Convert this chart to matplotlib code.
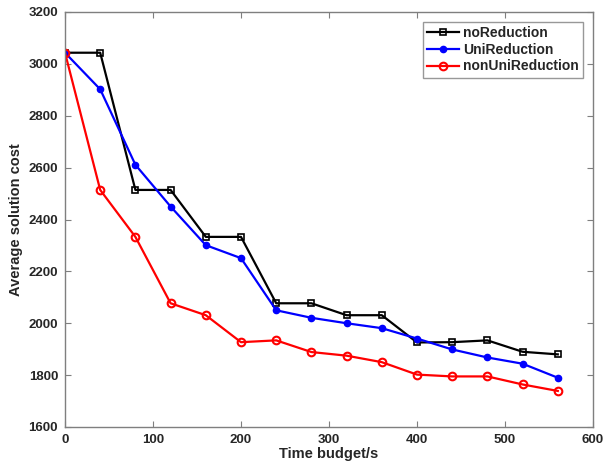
import matplotlib
matplotlib.use("Agg")
import matplotlib.pyplot as plt

# Data
time_budget = [0, 40, 80, 120, 160, 200, 240, 280, 320, 360, 400, 440, 480, 520, 560]
no_reduction = [3043, 3043, 2514, 2514, 2333, 2333, 2077, 2077, 2031, 2031, 1926, 1927, 1934, 1890, 1880]
uni_reduction = [3043, 2902, 2611, 2450, 2301, 2251, 2050, 2021, 2000, 1981, 1941, 1899, 1868, 1844, 1790]
non_uni_reduction = [3043, 2514, 2333, 2077, 2031, 1927, 1934, 1889, 1875, 1850, 1802, 1795, 1795, 1764, 1739]

plt.rcParams['font.family'] = ['Liberation Sans', 'DejaVu Sans']
plt.rcParams['font.weight'] = 'bold'

fig = plt.figure(figsize=(6.16, 4.70), dpi=100)
ax = fig.add_axes([65 / 616, 43 / 470, 528 / 616, 415 / 470])

ax.plot(time_budget, no_reduction, color='black', lw=1.6, marker='s', ms=4.2,
        mfc='none', mew=1.2, label='noReduction')
ax.plot(time_budget, uni_reduction, color='blue', lw=1.6, marker='o', ms=4.5,
        mfc='blue', label='UniReduction')
ax.plot(time_budget, non_uni_reduction, color='red', lw=1.6, marker='o', ms=5.5,
        mfc='none', mew=1.5, label='nonUniReduction')

ax.set_xlim(0, 600)
ax.set_ylim(1600, 3200)
ax.set_xticks(range(0, 601, 100))
ax.set_yticks(range(1600, 3201, 200))

axis_color = '#7f7f7f'
for side in ax.spines.values():
    side.set_color(axis_color)
    side.set_linewidth(1)
ax.tick_params(direction='in', length=4, color=axis_color, labelcolor='#262626',
               labelsize=9.5, top=True, right=True, pad=5)
for lbl in ax.get_xticklabels() + ax.get_yticklabels():
    lbl.set_fontweight('bold')

ax.set_xlabel('Time budget/s', fontsize=10.5, fontweight='bold', color='#262626', labelpad=1)
ax.set_ylabel('Average solution cost', fontsize=10.5, fontweight='bold', color='#262626', labelpad=4)

leg = ax.legend(loc='upper right', fontsize=10, frameon=True, fancybox=False,
                handlelength=2.3, handletextpad=0.3, borderpad=0.3, labelspacing=0.2,
                borderaxespad=0.7)
leg.get_frame().set_edgecolor(axis_color)
leg.get_frame().set_linewidth(1)
for t in leg.get_texts():
    t.set_fontweight('bold')
    t.set_color('#262626')

fig.savefig('out.png', dpi=100)
